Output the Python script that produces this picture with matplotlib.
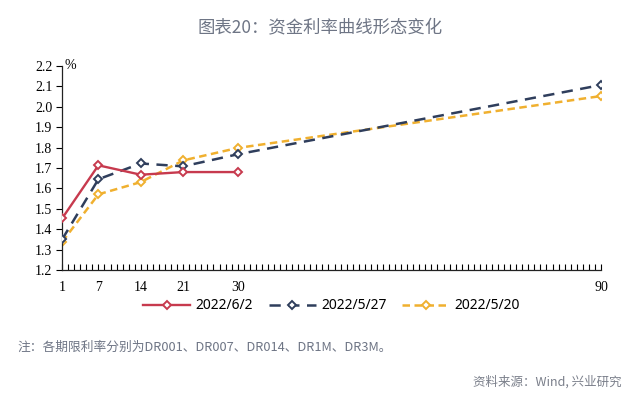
import matplotlib
matplotlib.use("Agg")
import numpy as np
from matplotlib import pyplot as plt
from matplotlib.ticker import MultipleLocator

# 期限（天）
tenor_days = [1, 7, 14, 21, 30, 90]
tenor_labels = ["1", "7", "14", "21", "30", "90"]

# 各日期资金利率（%）
rate_0602 = [1.453, 1.713, 1.667, 1.680, 1.680]
rate_0527 = [1.350, 1.645, 1.722, 1.708, 1.767, 2.106]
rate_0520 = [1.338, 1.571, 1.631, 1.737, 1.798, 2.052]

series_names = ["2022/6/2", "2022/5/27", "2022/5/20"]

if __name__ == '__main__':
    plt.rcParams['font.family'] = ['Noto Sans CJK SC', 'DejaVu Sans']
    serif = ['Liberation Serif', 'DejaVu Serif']

    fig = plt.figure(figsize=(6.4, 3.99), dpi=100)
    ax = fig.add_axes([0.097, 0.323, 0.842, 0.512])

    red = "#c73a4e"
    navy = "#2f3e5c"
    orange = "#f0b02f"

    ax.plot(tenor_days[:len(rate_0602)], rate_0602, color=red, linewidth=1.7,
            marker="D", markersize=4.5, markerfacecolor="white", markeredgecolor=red,
            markeredgewidth=1.4, label=series_names[0], zorder=4)
    ax.plot(tenor_days, rate_0527, color=navy, linewidth=1.8, linestyle=(0, (4.5, 3)),
            marker="D", markersize=4.5, markerfacecolor="white", markeredgecolor=navy,
            markeredgewidth=1.4, label=series_names[1], zorder=3)
    ax.plot(tenor_days, rate_0520, color=orange, linewidth=1.8, linestyle=(0, (3, 1.8)),
            marker="D", markersize=4.5, markerfacecolor="white", markeredgecolor=orange,
            markeredgewidth=1.4, label=series_names[2], zorder=2)

    ax.set_xlim(1, 90)
    ax.set_ylim(1.2, 2.2)
    ax.set_xticks(tenor_days)
    ax.set_xticklabels(tenor_labels, family=serif, fontsize=10)
    ax.xaxis.set_minor_locator(MultipleLocator(1))
    ax.set_yticks(np.arange(1.2, 2.21, 0.1))
    ax.set_yticklabels([f"{v:.1f}" for v in np.arange(1.2, 2.21, 0.1)], family=serif, fontsize=10)

    ax.tick_params(axis='x', which='both', direction='in', length=4, width=0.8, pad=8)
    ax.tick_params(axis='y', direction='out', length=4, width=0.8, pad=3)
    for s in ["top", "right"]:
        ax.spines[s].set_visible(False)
    for s in ["left", "bottom"]:
        ax.spines[s].set_linewidth(0.9)
        ax.spines[s].set_color("#222222")

    ax.text(0.005, 1.0, "%", transform=ax.transAxes, ha="left", va="center",
            fontsize=10, family=serif)

    ax.legend(loc="center", bbox_to_anchor=(0.5, -0.175), ncol=3, frameon=False,
              prop={'family': ['Noto Sans', 'DejaVu Sans'], 'size': 10}, handlelength=3.4,
              columnspacing=1.1, handletextpad=0.4)

    fig.text(0.5, 0.932, "图表20：资金利率曲线形态变化", ha="center", va="center",
             fontsize=12.5, color="#6e7585", fontweight="medium")
    fig.text(0.028, 0.13, "注：各期限利率分别为DR001、DR007、DR014、DR1M、DR3M。",
             ha="left", va="center", fontsize=9.2, color="#6e7585")
    fig.text(0.972, 0.043, "资料来源：Wind, 兴业研究", ha="right", va="center",
             fontsize=9, color="#7a7f8a")

    fig.savefig("out.png", dpi=100)
